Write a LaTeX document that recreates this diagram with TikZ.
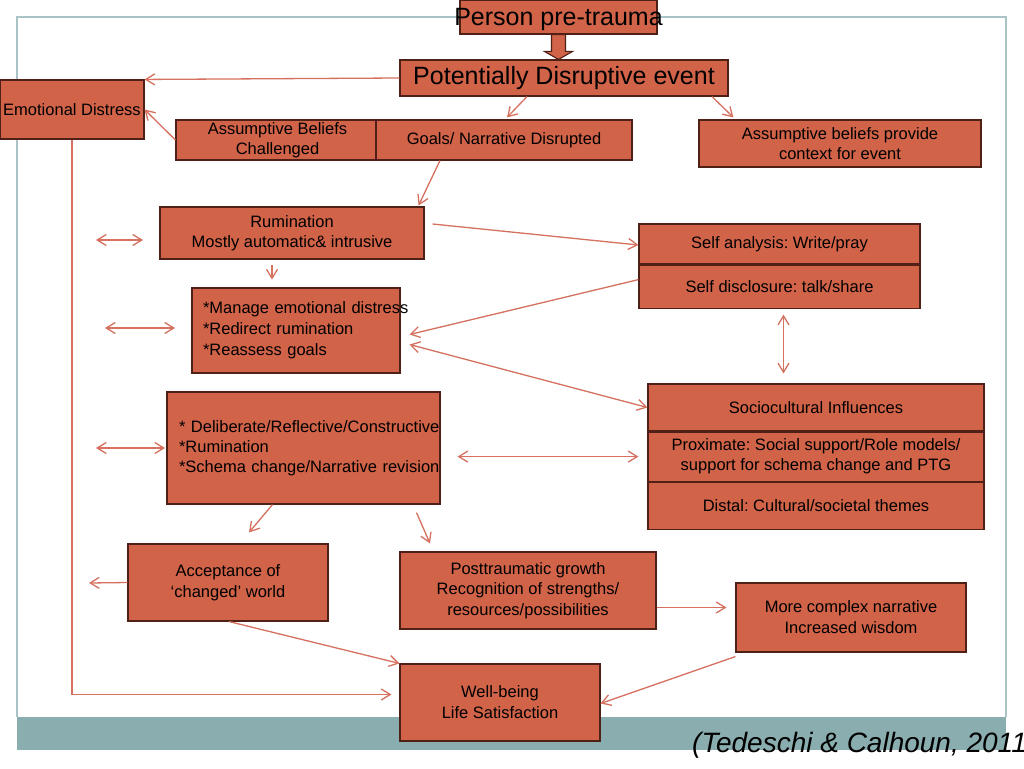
\documentclass[tikz,border=0pt]{standalone}
\usepackage{fontspec}
\setmainfont{Liberation Sans}
\usepackage{tikz}
\usetikzlibrary{arrows.meta, positioning, calc}
\frenchspacing

\definecolor{boxfill}{RGB}{209,99,73}
\definecolor{boxline}{RGB}{78,32,22}
\definecolor{linkcol}{RGB}{214,112,95}
\definecolor{framecol}{RGB}{170,195,198}
\definecolor{bandcol}{RGB}{138,173,175}

\begin{document}
\begin{tikzpicture}[x=1pt,y=-1pt,>={Straight Barb[length=9pt,width=11pt]},
	main box/.style={rectangle,draw=boxline,fill=boxfill,line width=1.1pt,inner sep=0pt,align=center,font=\fontsize{16.5}{20}\selectfont},
	big box/.style={main box,font=\fontsize{25}{30}\selectfont},
	conn/.style={draw=linkcol,line width=1.3pt}]

	\useasboundingbox (0,0) rectangle (1024,768);
	\fill[white] (0,0) rectangle (1024,768);
	% slide frame and band
	\draw[framecol,line width=1.5pt] (17,717) |- (1006,17) -- (1006,717);
	\fill[bandcol] (17,717) rectangle (1006,750);

	\node[big box,minimum width=197pt,minimum height=34pt,text depth=0pt] (pre) at (558.5,17) {\makebox[197pt][c]{Person pre-trauma}};
	\node[big box,minimum width=328pt,minimum height=36pt] (event) at (564,78) {Potentially Disruptive event};
	\node[main box,minimum width=144pt,minimum height=59pt] (distress) at (72,109.5) {Emotional Distress};
	\node[main box,minimum width=203pt,minimum height=40pt] (beliefs) at (277.5,140) {Assumptive Beliefs\\Challenged};
	\node[main box,minimum width=256pt,minimum height=40pt] (goals) at (504,140) {Goals/ Narrative Disrupted};
	\node[main box,minimum width=282pt,minimum height=47pt] (context) at (840,143.5) {Assumptive beliefs provide\\context for event};

	\node[main box,minimum width=264pt,minimum height=52pt] (rum) at (292,233) {Rumination\\Mostly automatic\& intrusive};
	\node[main box,minimum width=208pt,minimum height=85pt,text width=186pt,align=left,font=\fontsize{16.5}{21}\selectfont] (manage) at (296,330.5)
		{\mbox{*Manage emotional distress}\\{}*Redirect rumination\\{}*Reassess goals};
	\node[main box,minimum width=273pt,minimum height=112pt,text width=249pt,align=left] (delib) at (303.5,448)
		{\mbox{* Deliberate/Reflective/Constructive}\\{}*Rumination\\{}\mbox{*Schema change/Narrative revision}};

	\node[main box,minimum width=281pt,minimum height=40pt] (analysis) at (779.5,244) {Self analysis: Write/pray};
	\node[main box,minimum width=281pt,minimum height=43pt] (disclose) [below=0pt of analysis] {Self disclosure: talk/share};
	\node[main box,minimum width=336pt,minimum height=47pt] (socio) at (816,407.5) {Sociocultural Influences};
	\node[main box,minimum width=336pt,minimum height=49pt] (prox) [below=0pt of socio] {Proximate: Social support/Role models/\\support for schema change and PTG};
	\node[main box,minimum width=336pt,minimum height=47pt] (distal) [below=0pt of prox] {Distal: Cultural/societal themes};

	\node[main box,minimum width=200pt,minimum height=77pt,font=\fontsize{16.5}{21}\selectfont] (accept) at (228,582.5) {Acceptance of\\‘changed’ world};
	\node[main box,minimum width=256pt,minimum height=77pt,font=\fontsize{16.5}{20.5}\selectfont] (growth) at (528,590.5) {Posttraumatic growth\\Recognition of strengths/\\resources/possibilities};
	\node[main box,minimum width=230pt,minimum height=69pt,font=\fontsize{16.5}{21}\selectfont] (wisdom) at (851,617.5) {More complex narrative\\Increased wisdom};
	\node[main box,minimum width=200pt,minimum height=77pt,font=\fontsize{16.5}{21}\selectfont] (well) at (500,702.5) {Well-being\\Life Satisfaction};

	\node[font=\fontsize{28}{32}\selectfont\itshape,anchor=base west,inner sep=0pt] (cite) at (692,752) {(Tedeschi \& Calhoun, 2011)};

	% free ends
	\coordinate (rum l) at (96,240);
	\coordinate (rum r) at (143,240);
	\coordinate (man l) at (105,328);
	\coordinate (man r) at (175,328);
	\coordinate (del l) at (96,448);
	\coordinate (del r) at (165,448);
	\coordinate (acc out) at (89,583);

	% fat arrow
	\coordinate (tip) at (pre.south |- event.north);
	\draw[draw=boxline,fill=boxfill,line width=1.1pt] ([xshift=-7pt]pre.south) -- ([xshift=7pt]pre.south) -- ([xshift=7pt,yshift=8pt]tip)
		-- ([xshift=14pt,yshift=8pt]tip) -- (tip) -- ([xshift=-14pt,yshift=8pt]tip) -- ([xshift=-7pt,yshift=8pt]tip) -- cycle;

	\path[conn]
	(event.west) edge[->] (distress.north east)
	(beliefs.west) edge[->] (distress.east)
	([xshift=-37pt]event.south) edge[->] ([xshift=3pt,yshift=2pt]goals.north)
	([xshift=148pt]event.south) edge[->] ([xshift=35pt,yshift=2pt]context.north west)
	([xshift=-64pt]goals.south) edge[->] ([xshift=-6pt,yshift=1pt]rum.north east)
	([xshift=8pt,yshift=9pt]rum.east) edge[->] ([yshift=-1pt]analysis.west)
	(rum l) edge[<->] (rum r)
	([xshift=-20pt,yshift=-5pt]rum.south) edge[->] ([xshift=-20pt,yshift=-20pt]rum.south)
	(man l) edge[<->] (man r)
	([yshift=7pt]disclose.west) edge[->] ([xshift=9pt,yshift=-4pt]manage.east)
	([xshift=9pt,yshift=-14pt]manage.east) edge[<->] (socio.west)
	([xshift=4pt,yshift=-6pt]disclose.south) edge[<->] ([xshift=4pt,yshift=10pt]disclose.south |- socio.north)
	(del l) edge[<->] (del r)
	([xshift=17pt]delib.east |- prox.west) edge[<->] ([xshift=-9pt]prox.west)
	([xshift=-31pt]delib.south) edge[->] ([xshift=21pt,yshift=11pt]accept.north)
	([xshift=113pt,yshift=-8pt]delib.south) edge[->] ([xshift=-98pt,yshift=8pt]growth.north)
	(accept.west) edge[->] (acc out)
	([yshift=-17pt]growth.east) edge[->] ([xshift=-9pt,yshift=-17pt]growth.east -| wisdom.west)
	([xshift=1pt]accept.south) edge[->] (well.north west)
	([yshift=-4pt]wisdom.south west) edge[->] ([yshift=-1pt]well.east);
	\draw[conn,->] (distress.south) |- ([xshift=-8pt,yshift=8pt]well.west);
\end{tikzpicture}
\end{document}
